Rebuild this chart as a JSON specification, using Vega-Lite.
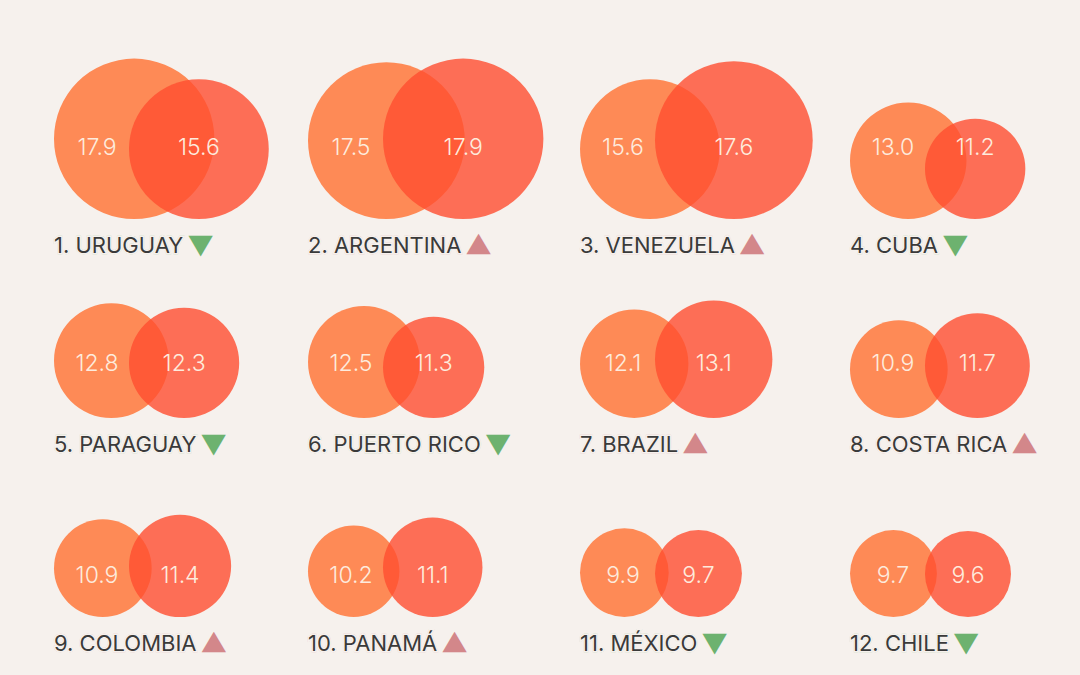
{
  "$schema": "https://vega.github.io/schema/vega-lite/v6.json",
  "autosize": {"type": "pad"},
  "padding": {"left": 53, "top": 54, "right": 0, "bottom": 24},
  "background": "#F6F1ED",
  "config": {"view": {"stroke": null}, "concat": {"spacing": 0}},
  "data": {"values": [
    {"rank": 1, "country": "URUGUAY", "series": "a", "value": 17.9, "trend": "down"},
    {"rank": 1, "country": "URUGUAY", "series": "b", "value": 15.6, "trend": "down"},
    {"rank": 2, "country": "ARGENTINA", "series": "a", "value": 17.5, "trend": "up"},
    {"rank": 2, "country": "ARGENTINA", "series": "b", "value": 17.9, "trend": "up"},
    {"rank": 3, "country": "VENEZUELA", "series": "a", "value": 15.6, "trend": "up"},
    {"rank": 3, "country": "VENEZUELA", "series": "b", "value": 17.6, "trend": "up"},
    {"rank": 4, "country": "CUBA", "series": "a", "value": 13.0, "trend": "down"},
    {"rank": 4, "country": "CUBA", "series": "b", "value": 11.2, "trend": "down"},
    {"rank": 5, "country": "PARAGUAY", "series": "a", "value": 12.8, "trend": "down"},
    {"rank": 5, "country": "PARAGUAY", "series": "b", "value": 12.3, "trend": "down"},
    {"rank": 6, "country": "PUERTO RICO", "series": "a", "value": 12.5, "trend": "down"},
    {"rank": 6, "country": "PUERTO RICO", "series": "b", "value": 11.3, "trend": "down"},
    {"rank": 7, "country": "BRAZIL", "series": "a", "value": 12.1, "trend": "up"},
    {"rank": 7, "country": "BRAZIL", "series": "b", "value": 13.1, "trend": "up"},
    {"rank": 8, "country": "COSTA RICA", "series": "a", "value": 10.9, "trend": "up"},
    {"rank": 8, "country": "COSTA RICA", "series": "b", "value": 11.7, "trend": "up"},
    {"rank": 9, "country": "COLOMBIA", "series": "a", "value": 10.9, "trend": "up"},
    {"rank": 9, "country": "COLOMBIA", "series": "b", "value": 11.4, "trend": "up"},
    {"rank": 10, "country": "PANAMÁ", "series": "a", "value": 10.2, "trend": "up"},
    {"rank": 10, "country": "PANAMÁ", "series": "b", "value": 11.1, "trend": "up"},
    {"rank": 11, "country": "MÉXICO", "series": "a", "value": 9.9, "trend": "down"},
    {"rank": 11, "country": "MÉXICO", "series": "b", "value": 9.7, "trend": "down"},
    {"rank": 12, "country": "CHILE", "series": "a", "value": 9.7, "trend": "down"},
    {"rank": 12, "country": "CHILE", "series": "b", "value": 9.6, "trend": "down"}
  ]},
  "transform": [
    {"calculate": "floor((datum.rank - 1) / 4) + 1", "as": "row"},
    {"calculate": "((datum.rank - 1) % 4) + 1", "as": "col"},
    {"calculate": "datum.rank + '. ' + datum.country", "as": "label"},
    {"calculate": "datum.label + '  ' + (datum.trend == 'down' ? '▼' : '▲')", "as": "labarrow"},
    {"calculate": "datum.series == 'a' ? datum.value : 16.74 + datum.value", "as": "cx"},
    {"calculate": "datum.series == 'a' ? 9.6 : 16.74 + datum.value", "as": "tx"},
    {"calculate": "datum.row == 1 ? 15.85 : (datum.row == 2 ? 11.95 : 9.15)", "as": "ty"}
  ],
  "resolve": {"scale": {"x": "independent"}},
  "hconcat": [
    {
      "transform": [{"filter": "datum.col == 1"}],
      "facet": {"row": {"field": "row", "type": "ordinal", "header": null}},
      "spacing": {"row": 0},
      "bounds": "flush",
      "spec": {
        "width": 254, "height": 199,
        "layer": [
          {"transform": [{"filter": "datum.series == 'a'"}],
           "mark": {"type": "point", "filled": true, "shape": "circle", "opacity": 1, "color": "#FE8A56", "strokeWidth": 0},
           "encoding": {
             "x": {"field": "cx", "type": "quantitative", "scale": {"domain": [0, 56.7], "nice": false, "zero": false}, "axis": null},
             "y": {"field": "value", "type": "quantitative", "scale": {"domain": [-7.59, 36.83], "nice": false, "zero": false}, "axis": null},
             "size": {"field": "value", "type": "quantitative", "scale": {"type": "pow", "exponent": 2, "domain": [0, 20], "range": [0, 32113]}, "legend": null}}},
          {"transform": [{"filter": "datum.series == 'b'"}],
           "mark": {"type": "point", "filled": true, "shape": "circle", "opacity": 0.8, "color": "#FF4D2F", "strokeWidth": 0},
           "encoding": {
             "x": {"field": "cx", "type": "quantitative", "axis": null},
             "y": {"field": "value", "type": "quantitative", "axis": null},
             "size": {"field": "value", "type": "quantitative", "legend": null}}},
          {"mark": {"type": "text", "font": "Inter", "fontSize": 23, "fontWeight": 300, "color": "#FDEBDD", "align": "center", "baseline": "middle"},
           "encoding": {
             "x": {"field": "tx", "type": "quantitative", "axis": null},
             "y": {"field": "ty", "type": "quantitative", "axis": null},
             "text": {"field": "value", "type": "quantitative", "format": ".1f"}}},
          {"transform": [{"filter": "datum.series == 'a'"}],
           "mark": {"type": "text", "font": "Inter, 'DejaVu Sans'", "fontSize": 22, "align": "left", "baseline": "middle", "strokeWidth": 2.4, "strokeJoin": "miter"},
           "encoding": {
             "x": {"datum": 0, "type": "quantitative", "axis": null},
             "y": {"datum": -6.0, "type": "quantitative", "axis": null},
             "text": {"field": "labarrow"},
             "fill": {"field": "trend", "type": "nominal", "scale": {"domain": ["down", "up"], "range": ["#6DB26F", "#D3878A"]}, "legend": null},
             "stroke": {"field": "trend", "type": "nominal", "scale": {"domain": ["down", "up"], "range": ["#6DB26F", "#D3878A"]}, "legend": null}}},
          {"transform": [{"filter": "datum.series == 'a'"}],
           "mark": {"type": "text", "font": "Inter, 'DejaVu Sans'", "fontSize": 22, "align": "left", "baseline": "middle", "fill": "#F6F1ED", "stroke": "#F6F1ED", "strokeWidth": 3.2},
           "encoding": {
             "x": {"datum": 0, "type": "quantitative", "axis": null},
             "y": {"datum": -6.0, "type": "quantitative", "axis": null},
             "text": {"field": "label"}}},
          {"transform": [{"filter": "datum.series == 'a'"}],
           "mark": {"type": "text", "font": "Inter, 'DejaVu Sans'", "fontSize": 22, "align": "left", "baseline": "middle", "color": "#3A3A3A"},
           "encoding": {
             "x": {"datum": 0, "type": "quantitative", "axis": null},
             "y": {"datum": -6.0, "type": "quantitative", "axis": null},
             "text": {"field": "label"}}}
        ]
      }
    },
    {
      "transform": [{"filter": "datum.col == 2"}],
      "facet": {"row": {"field": "row", "type": "ordinal", "header": null}},
      "spacing": {"row": 0},
      "bounds": "flush",
      "spec": {
        "width": 272, "height": 199,
        "layer": [
          {"transform": [{"filter": "datum.series == 'a'"}],
           "mark": {"type": "point", "filled": true, "shape": "circle", "opacity": 1, "color": "#FE8A56", "strokeWidth": 0},
           "encoding": {
             "x": {"field": "cx", "type": "quantitative", "scale": {"domain": [0, 60.71], "nice": false, "zero": false}, "axis": null},
             "y": {"field": "value", "type": "quantitative", "scale": {"domain": [-7.59, 36.83], "nice": false, "zero": false}, "axis": null},
             "size": {"field": "value", "type": "quantitative", "scale": {"type": "pow", "exponent": 2, "domain": [0, 20], "range": [0, 32113]}, "legend": null}}},
          {"transform": [{"filter": "datum.series == 'b'"}],
           "mark": {"type": "point", "filled": true, "shape": "circle", "opacity": 0.8, "color": "#FF4D2F", "strokeWidth": 0},
           "encoding": {
             "x": {"field": "cx", "type": "quantitative", "axis": null},
             "y": {"field": "value", "type": "quantitative", "axis": null},
             "size": {"field": "value", "type": "quantitative", "legend": null}}},
          {"mark": {"type": "text", "font": "Inter", "fontSize": 23, "fontWeight": 300, "color": "#FDEBDD", "align": "center", "baseline": "middle"},
           "encoding": {
             "x": {"field": "tx", "type": "quantitative", "axis": null},
             "y": {"field": "ty", "type": "quantitative", "axis": null},
             "text": {"field": "value", "type": "quantitative", "format": ".1f"}}},
          {"transform": [{"filter": "datum.series == 'a'"}],
           "mark": {"type": "text", "font": "Inter, 'DejaVu Sans'", "fontSize": 22, "align": "left", "baseline": "middle", "strokeWidth": 2.4, "strokeJoin": "miter"},
           "encoding": {
             "x": {"datum": 0, "type": "quantitative", "axis": null},
             "y": {"datum": -6.0, "type": "quantitative", "axis": null},
             "text": {"field": "labarrow"},
             "fill": {"field": "trend", "type": "nominal", "scale": {"domain": ["down", "up"], "range": ["#6DB26F", "#D3878A"]}, "legend": null},
             "stroke": {"field": "trend", "type": "nominal", "scale": {"domain": ["down", "up"], "range": ["#6DB26F", "#D3878A"]}, "legend": null}}},
          {"transform": [{"filter": "datum.series == 'a'"}],
           "mark": {"type": "text", "font": "Inter, 'DejaVu Sans'", "fontSize": 22, "align": "left", "baseline": "middle", "fill": "#F6F1ED", "stroke": "#F6F1ED", "strokeWidth": 3.2},
           "encoding": {
             "x": {"datum": 0, "type": "quantitative", "axis": null},
             "y": {"datum": -6.0, "type": "quantitative", "axis": null},
             "text": {"field": "label"}}},
          {"transform": [{"filter": "datum.series == 'a'"}],
           "mark": {"type": "text", "font": "Inter, 'DejaVu Sans'", "fontSize": 22, "align": "left", "baseline": "middle", "color": "#3A3A3A"},
           "encoding": {
             "x": {"datum": 0, "type": "quantitative", "axis": null},
             "y": {"datum": -6.0, "type": "quantitative", "axis": null},
             "text": {"field": "label"}}}
        ]
      }
    },
    {
      "transform": [{"filter": "datum.col == 3"}],
      "facet": {"row": {"field": "row", "type": "ordinal", "header": null}},
      "spacing": {"row": 0},
      "bounds": "flush",
      "spec": {
        "width": 269, "height": 199,
        "layer": [
          {"transform": [{"filter": "datum.series == 'a'"}],
           "mark": {"type": "point", "filled": true, "shape": "circle", "opacity": 1, "color": "#FE8A56", "strokeWidth": 0},
           "encoding": {
             "x": {"field": "cx", "type": "quantitative", "scale": {"domain": [0, 60.04], "nice": false, "zero": false}, "axis": null},
             "y": {"field": "value", "type": "quantitative", "scale": {"domain": [-7.59, 36.83], "nice": false, "zero": false}, "axis": null},
             "size": {"field": "value", "type": "quantitative", "scale": {"type": "pow", "exponent": 2, "domain": [0, 20], "range": [0, 32113]}, "legend": null}}},
          {"transform": [{"filter": "datum.series == 'b'"}],
           "mark": {"type": "point", "filled": true, "shape": "circle", "opacity": 0.8, "color": "#FF4D2F", "strokeWidth": 0},
           "encoding": {
             "x": {"field": "cx", "type": "quantitative", "axis": null},
             "y": {"field": "value", "type": "quantitative", "axis": null},
             "size": {"field": "value", "type": "quantitative", "legend": null}}},
          {"mark": {"type": "text", "font": "Inter", "fontSize": 23, "fontWeight": 300, "color": "#FDEBDD", "align": "center", "baseline": "middle"},
           "encoding": {
             "x": {"field": "tx", "type": "quantitative", "axis": null},
             "y": {"field": "ty", "type": "quantitative", "axis": null},
             "text": {"field": "value", "type": "quantitative", "format": ".1f"}}},
          {"transform": [{"filter": "datum.series == 'a'"}],
           "mark": {"type": "text", "font": "Inter, 'DejaVu Sans'", "fontSize": 22, "align": "left", "baseline": "middle", "strokeWidth": 2.4, "strokeJoin": "miter"},
           "encoding": {
             "x": {"datum": 0, "type": "quantitative", "axis": null},
             "y": {"datum": -6.0, "type": "quantitative", "axis": null},
             "text": {"field": "labarrow"},
             "fill": {"field": "trend", "type": "nominal", "scale": {"domain": ["down", "up"], "range": ["#6DB26F", "#D3878A"]}, "legend": null},
             "stroke": {"field": "trend", "type": "nominal", "scale": {"domain": ["down", "up"], "range": ["#6DB26F", "#D3878A"]}, "legend": null}}},
          {"transform": [{"filter": "datum.series == 'a'"}],
           "mark": {"type": "text", "font": "Inter, 'DejaVu Sans'", "fontSize": 22, "align": "left", "baseline": "middle", "fill": "#F6F1ED", "stroke": "#F6F1ED", "strokeWidth": 3.2},
           "encoding": {
             "x": {"datum": 0, "type": "quantitative", "axis": null},
             "y": {"datum": -6.0, "type": "quantitative", "axis": null},
             "text": {"field": "label"}}},
          {"transform": [{"filter": "datum.series == 'a'"}],
           "mark": {"type": "text", "font": "Inter, 'DejaVu Sans'", "fontSize": 22, "align": "left", "baseline": "middle", "color": "#3A3A3A"},
           "encoding": {
             "x": {"datum": 0, "type": "quantitative", "axis": null},
             "y": {"datum": -6.0, "type": "quantitative", "axis": null},
             "text": {"field": "label"}}}
        ]
      }
    },
    {
      "transform": [{"filter": "datum.col == 4"}],
      "facet": {"row": {"field": "row", "type": "ordinal", "header": null}},
      "spacing": {"row": 0},
      "bounds": "flush",
      "spec": {
        "width": 232, "height": 199,
        "layer": [
          {"transform": [{"filter": "datum.series == 'a'"}],
           "mark": {"type": "point", "filled": true, "shape": "circle", "opacity": 1, "color": "#FE8A56", "strokeWidth": 0},
           "encoding": {
             "x": {"field": "cx", "type": "quantitative", "scale": {"domain": [0, 51.79], "nice": false, "zero": false}, "axis": null},
             "y": {"field": "value", "type": "quantitative", "scale": {"domain": [-7.59, 36.83], "nice": false, "zero": false}, "axis": null},
             "size": {"field": "value", "type": "quantitative", "scale": {"type": "pow", "exponent": 2, "domain": [0, 20], "range": [0, 32113]}, "legend": null}}},
          {"transform": [{"filter": "datum.series == 'b'"}],
           "mark": {"type": "point", "filled": true, "shape": "circle", "opacity": 0.8, "color": "#FF4D2F", "strokeWidth": 0},
           "encoding": {
             "x": {"field": "cx", "type": "quantitative", "axis": null},
             "y": {"field": "value", "type": "quantitative", "axis": null},
             "size": {"field": "value", "type": "quantitative", "legend": null}}},
          {"mark": {"type": "text", "font": "Inter", "fontSize": 23, "fontWeight": 300, "color": "#FDEBDD", "align": "center", "baseline": "middle"},
           "encoding": {
             "x": {"field": "tx", "type": "quantitative", "axis": null},
             "y": {"field": "ty", "type": "quantitative", "axis": null},
             "text": {"field": "value", "type": "quantitative", "format": ".1f"}}},
          {"transform": [{"filter": "datum.series == 'a'"}],
           "mark": {"type": "text", "font": "Inter, 'DejaVu Sans'", "fontSize": 22, "align": "left", "baseline": "middle", "strokeWidth": 2.4, "strokeJoin": "miter"},
           "encoding": {
             "x": {"datum": 0, "type": "quantitative", "axis": null},
             "y": {"datum": -6.0, "type": "quantitative", "axis": null},
             "text": {"field": "labarrow"},
             "fill": {"field": "trend", "type": "nominal", "scale": {"domain": ["down", "up"], "range": ["#6DB26F", "#D3878A"]}, "legend": null},
             "stroke": {"field": "trend", "type": "nominal", "scale": {"domain": ["down", "up"], "range": ["#6DB26F", "#D3878A"]}, "legend": null}}},
          {"transform": [{"filter": "datum.series == 'a'"}],
           "mark": {"type": "text", "font": "Inter, 'DejaVu Sans'", "fontSize": 22, "align": "left", "baseline": "middle", "fill": "#F6F1ED", "stroke": "#F6F1ED", "strokeWidth": 3.2},
           "encoding": {
             "x": {"datum": 0, "type": "quantitative", "axis": null},
             "y": {"datum": -6.0, "type": "quantitative", "axis": null},
             "text": {"field": "label"}}},
          {"transform": [{"filter": "datum.series == 'a'"}],
           "mark": {"type": "text", "font": "Inter, 'DejaVu Sans'", "fontSize": 22, "align": "left", "baseline": "middle", "color": "#3A3A3A"},
           "encoding": {
             "x": {"datum": 0, "type": "quantitative", "axis": null},
             "y": {"datum": -6.0, "type": "quantitative", "axis": null},
             "text": {"field": "label"}}}
        ]
      }
    }
  ]
}
